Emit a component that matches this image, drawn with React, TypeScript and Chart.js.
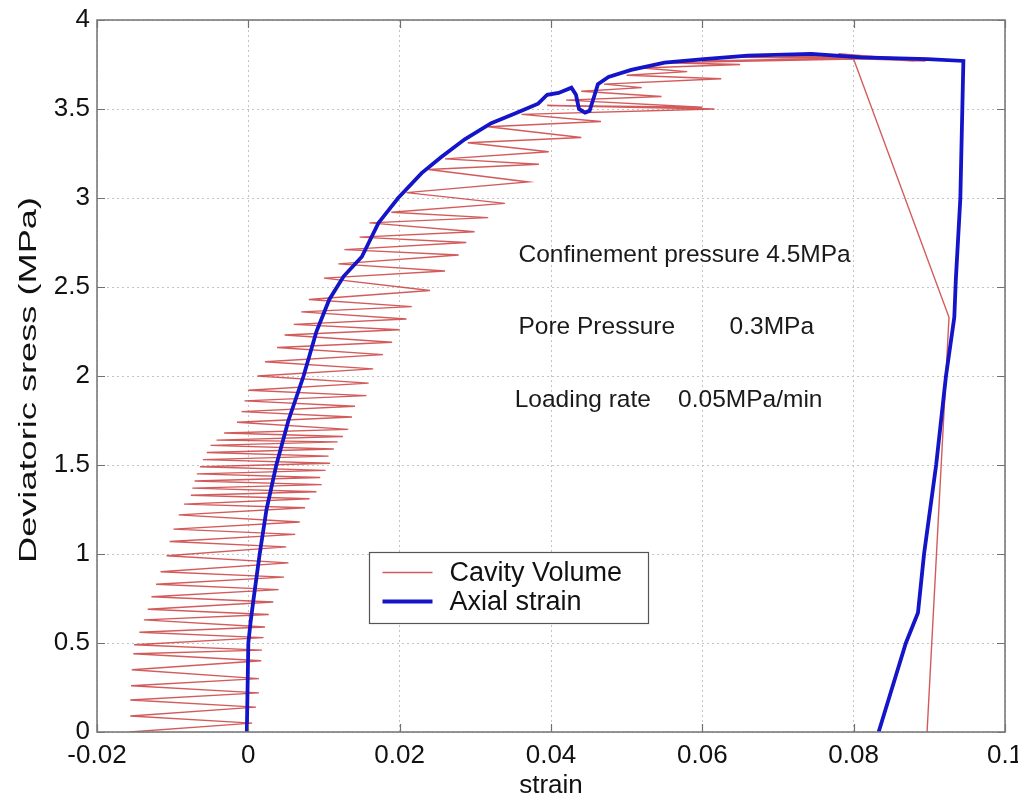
import React, { useEffect, useRef } from 'react';
import { Chart, registerables } from 'chart.js';

Chart.register(...registerables);

// ---------- data ----------
const strainTicks = [-0.02, 0, 0.02, 0.04, 0.06, 0.08, 0.1];
const stressTicks = [0, 0.5, 1, 1.5, 2, 2.5, 3, 3.5, 4];

const seriesLabels = ['Cavity Volume', 'Axial strain'];

const cavityStrain = [
  -0.0157, 0.0005, -0.0156, 0.0010, -0.0156, 0.0014, -0.0155, 0.0014, -0.0154, 0.0017,
  -0.0152, 0.0018, -0.0151, 0.0020, -0.0144, 0.0022, -0.0138, 0.0027, -0.0133, 0.0033,
  -0.0128, 0.0040, -0.0122, 0.0047, -0.0116, 0.0053, -0.0108, 0.0050, -0.0104, 0.0062,
  -0.0099, 0.0068, -0.0092, 0.0075, -0.0085, 0.0081, -0.0076, 0.0090, -0.0074, 0.0097,
  -0.0071, 0.0095, -0.0068, 0.0102, -0.0064, 0.0108, -0.0060, 0.0106, -0.0055, 0.0113,
  -0.0050, 0.0118, -0.0042, 0.0125, -0.0032, 0.0132, -0.0015, 0.0137, -0.0009, 0.0141,
  -0.0005, 0.0156, 0.0000, 0.0159, 0.0012, 0.0165, 0.0022, 0.0178, 0.0038, 0.0190,
  0.0048, 0.0200, 0.0060, 0.0209, 0.0070, 0.0216, 0.0080, 0.0240, 0.0100, 0.0260,
  0.0119, 0.0278, 0.0127, 0.0288, 0.0147, 0.0299, 0.0160, 0.0317, 0.0189, 0.0339,
  0.0209, 0.0370, 0.0238, 0.0384, 0.0260, 0.0397, 0.0290, 0.0440, 0.0317, 0.0466,
  0.0361, 0.0616, 0.0395, 0.0600, 0.0420, 0.0546, 0.0440, 0.0520, 0.0470, 0.0625,
  0.0500, 0.0580, 0.0520, 0.0650, 0.0550, 0.0800, 0.0600, 0.0850, 0.0650, 0.0880,
  0.0700, 0.0895, 0.0750, 0.0890, 0.0760, 0.0880, 0.0780, 0.0870, 0.0800, 0.0926,
  0.0897,
];
const cavityStress = [
  0.00, 0.05, 0.09, 0.14, 0.18, 0.22, 0.26, 0.30, 0.35, 0.40,
  0.44, 0.46, 0.49, 0.53, 0.56, 0.59, 0.63, 0.66, 0.69, 0.73,
  0.76, 0.80, 0.83, 0.87, 0.90, 0.95, 0.99, 1.04, 1.07, 1.11,
  1.14, 1.18, 1.22, 1.26, 1.28, 1.31, 1.33, 1.35, 1.37, 1.39,
  1.41, 1.43, 1.45, 1.47, 1.49, 1.51, 1.53, 1.55, 1.57, 1.59,
  1.61, 1.63, 1.64, 1.66, 1.68, 1.70, 1.74, 1.77, 1.80, 1.83,
  1.86, 1.89, 1.92, 1.96, 2.00, 2.04, 2.08, 2.12, 2.16, 2.19,
  2.23, 2.26, 2.29, 2.32, 2.36, 2.39, 2.43, 2.48, 2.55, 2.59,
  2.63, 2.68, 2.71, 2.75, 2.78, 2.81, 2.86, 2.89, 2.92, 2.97,
  3.03, 3.09, 3.16, 3.19, 3.22, 3.26, 3.31, 3.34, 3.40, 3.43,
  3.47, 3.50, 3.52, 3.51, 3.55, 3.57, 3.60, 3.62, 3.64, 3.67,
  3.69, 3.71, 3.73, 3.75, 3.76, 3.78, 3.77, 3.79, 3.79, 3.78,
  3.80, 3.77, 3.79, 3.78, 3.80, 3.77, 3.81, 3.78, 3.78, 2.33,
  0.00,
];

const axialStrain = [
  -0.0002, 0.0000, 0.0003, 0.0007, 0.0015, 0.0024, 0.0037, 0.0053, 0.0073, 0.0090,
  0.0107, 0.0126, 0.0150, 0.0172, 0.0198, 0.0229, 0.0255, 0.0286, 0.0321, 0.0350,
  0.0361, 0.0383, 0.0395, 0.0410, 0.0427, 0.0433, 0.0437, 0.0445, 0.0451, 0.0457,
  0.0462, 0.0476, 0.0506, 0.0550, 0.0602, 0.0660, 0.0744, 0.0810, 0.0898, 0.0945,
  0.0941, 0.0935, 0.0933, 0.0922, 0.0909, 0.0893, 0.0885, 0.0869, 0.0833,
];
const axialStress = [
  0.00, 0.50, 0.62, 0.75, 1.00, 1.25, 1.50, 1.75, 2.00, 2.25,
  2.43, 2.56, 2.67, 2.86, 3.00, 3.14, 3.23, 3.33, 3.42, 3.47,
  3.49, 3.53, 3.58, 3.59, 3.62, 3.58, 3.50, 3.48, 3.49, 3.57,
  3.64, 3.68, 3.72, 3.76, 3.78, 3.80, 3.81, 3.79, 3.78, 3.77,
  3.00, 2.54, 2.33, 2.00, 1.50, 1.00, 0.67, 0.50, 0.00,
];

const annotationTexts = ['Confinement pressure 4.5MPa', 'Pore Pressure', '0.3MPa', 'Loading rate', '0.05MPa/min'];
const annotationStrain = [0.0357, 0.0357, 0.0636, 0.0352, 0.0568];
const annotationStress = [2.68, 2.275, 2.275, 1.865, 1.865];

const xTitle = 'strain';
const yTitle = 'Deviatoric sress (MPa)';

// ---------- styles ----------
const FONT = "'Liberation Sans', Arial, Helvetica, sans-serif";
const RED = 'rgba(200,50,50,0.8)';
const BLUE = '#1414c8';

const fmt = (v: number) => String(Math.round(v * 1000) / 1000);

const decorPlugin = {
  id: 'decor',
  afterDraw(chart: any) {
    const ctx = chart.ctx as CanvasRenderingContext2D;
    const { left, right, top, bottom } = chart.chartArea;
    const xs = chart.scales.x;
    const ys = chart.scales.y;
    ctx.save();

    // inner tick marks (MATLAB style)
    ctx.strokeStyle = '#707070';
    ctx.lineWidth = 1.2;
    ctx.beginPath();
    strainTicks.forEach((v) => {
      const px = Math.round(xs.getPixelForValue(v)) + 0.5;
      ctx.moveTo(px, bottom);
      ctx.lineTo(px, bottom - 8);
      ctx.moveTo(px, top);
      ctx.lineTo(px, top + 8);
    });
    stressTicks.forEach((v) => {
      const py = Math.round(ys.getPixelForValue(v)) + 0.5;
      ctx.moveTo(left, py);
      ctx.lineTo(left + 8, py);
      ctx.moveTo(right, py);
      ctx.lineTo(right - 8, py);
    });
    ctx.stroke();

    // axes box
    ctx.strokeStyle = '#7a7a7a';
    ctx.lineWidth = 1.6;
    ctx.strokeRect(left, top, right - left, bottom - top);

    // annotations
    ctx.fillStyle = '#1a1a1a';
    ctx.font = `24.5px ${FONT}`;
    ctx.textBaseline = 'middle';
    ctx.textAlign = 'left';
    annotationTexts.forEach((t, i) => {
      ctx.fillText(t, xs.getPixelForValue(annotationStrain[i]), ys.getPixelForValue(annotationStress[i]));
    });

    // legend
    const lx = Math.round(xs.getPixelForValue(0.0159)) + 0.5;
    const ly = Math.round(ys.getPixelForValue(1.011)) + 0.5;
    const lw = 279;
    const lh = 71;
    ctx.fillStyle = '#ffffff';
    ctx.fillRect(lx, ly, lw, lh);
    ctx.strokeStyle = '#555555';
    ctx.lineWidth = 1.2;
    ctx.strokeRect(lx, ly, lw, lh);
    const ds = chart.data.datasets;
    const entries = [ds[1], ds[0]];
    entries.forEach((d: any, i: number) => {
      const ry = ly + 20 + i * 29;
      ctx.strokeStyle = d.borderColor;
      ctx.lineWidth = d.borderWidth;
      ctx.beginPath();
      ctx.moveTo(lx + 13, ry);
      ctx.lineTo(lx + 63, ry);
      ctx.stroke();
      ctx.fillStyle = '#111';
      ctx.font = `27px ${FONT}`;
      ctx.textBaseline = 'middle';
      ctx.fillText(d.label, lx + 80, ry + 1);
    });

    // y title (stretched like the reference)
    ctx.translate(30, (top + bottom) / 2 + 4);
    ctx.rotate(-Math.PI / 2);
    ctx.font = `23px ${FONT}`;
    const w = ctx.measureText(yTitle).width;
    ctx.scale(366 / w, 1);
    ctx.fillStyle = '#111';
    ctx.textAlign = 'center';
    ctx.textBaseline = 'middle';
    ctx.fillText(yTitle, 0, 0);
    ctx.restore();
  },
};

export default function App() {
  const ref = useRef<HTMLCanvasElement | null>(null);

  useEffect(() => {
    if (!ref.current) return;
    const chart = new Chart(ref.current, {
      type: 'scatter',
      data: {
        datasets: [
          {
            label: seriesLabels[1],
            data: axialStrain.map((x, i) => ({ x, y: axialStress[i] })),
            borderColor: BLUE,
            backgroundColor: BLUE,
            borderWidth: 3.8,
            showLine: true,
            pointRadius: 0,
            tension: 0,
          },
          {
            label: seriesLabels[0],
            data: cavityStrain.map((x, i) => ({ x, y: cavityStress[i] })),
            borderColor: RED,
            backgroundColor: RED,
            borderWidth: 1.4,
            showLine: true,
            pointRadius: 0,
            tension: 0,
          },
        ],
      },
      options: {
        animation: false,
        responsive: false,
        devicePixelRatio: 1,
        layout: { padding: { left: 0, top: 20, right: 13, bottom: 0 } },
        plugins: { legend: { display: false }, tooltip: { enabled: false } },
        scales: {
          x: {
            type: 'linear',
            min: -0.02,
            max: 0.1,
            afterBuildTicks: (s: any) => {
              s.ticks = strainTicks.map((v) => ({ value: v }));
            },
            afterFit: (s: any) => {
              s.height = 69;
              s.paddingLeft = 0;
              s.paddingRight = 0;
            },
            ticks: {
              autoSkip: false,
              maxRotation: 0,
              padding: 8,
              color: '#111',
              font: { family: FONT, size: 26 },
              callback: (v: any) => fmt(Number(v)),
            },
            grid: { color: '#c4c4c4', lineWidth: 1, drawTicks: false },
            border: { display: false, dash: [2, 3] },
            title: {
              display: true,
              text: xTitle,
              color: '#111',
              font: { family: FONT, size: 26 },
              padding: { top: 0, bottom: 0 },
            },
          },
          y: {
            type: 'linear',
            min: 0,
            max: 4,
            afterBuildTicks: (s: any) => {
              s.ticks = stressTicks.map((v) => ({ value: v }));
            },
            afterFit: (s: any) => {
              s.width = 97;
              s.paddingTop = 0;
              s.paddingBottom = 0;
            },
            ticks: {
              padding: 7,
              color: '#111',
              font: { family: FONT, size: 26 },
              callback: (v: any) => fmt(Number(v)),
            },
            grid: { color: '#c4c4c4', lineWidth: 1, drawTicks: false },
            border: { display: false, dash: [2, 3] },
          },
        },
      },
      plugins: [decorPlugin],
    } as any);
    return () => chart.destroy();
  }, []);

  return (
    <div style={{ position: 'absolute', left: 0, top: 0, width: 1018, height: 801, background: '#fff' }}>
      <canvas ref={ref} width={1018} height={801} />
    </div>
  );
}
